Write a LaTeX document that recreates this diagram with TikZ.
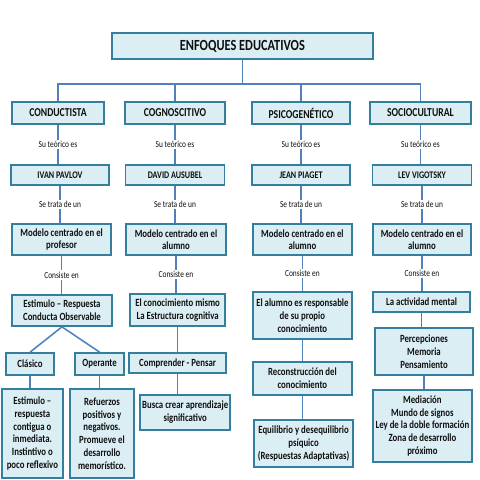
\documentclass[tikz,border=0pt]{standalone}
\usepackage{fontspec}
\setmainfont{Carlito}[FakeStretch=0.8]
\definecolor{boxfill}{RGB}{219,238,244}
\definecolor{boxborder}{RGB}{52,126,158}
\definecolor{linecol}{RGB}{79,129,189}
\definecolor{textcol}{RGB}{15,15,15}

\begin{document}
\begin{tikzpicture}
\tikzstyle{box} = [draw=boxborder, fill=boxfill, line width=1.2pt, inner sep=1pt, align=center, text=textcol, font=\bfseries\fontsize{7.8}{9.1}\selectfont]
\tikzstyle{line} = [draw=linecol, line width=1.1pt]
\tikzstyle{lbl} = [fill=white, inner sep=1pt, text=textcol, font=\fontsize{6.6}{7}\selectfont]
\tikzstyle{enfoque} = [font=\bfseries\fontsize{8.6}{9}\selectfont]
\tikzstyle{teorico} = [font=\bfseries\fontsize{7.2}{8}\selectfont]

\useasboundingbox (0,0) rectangle (12,-12);

% nodes
\node[box, font=\bfseries\fontsize{11}{12}\selectfont, minimum width=6.53cm, minimum height=0.65cm] (enf) at (6.06,-1.15) {ENFOQUES EDUCATIVOS};
\coordinate (bus) at (6.06,-2.1);

\node[box, enfoque, minimum width=2.3cm, minimum height=0.55cm] (cond) at (1.45,-2.825) {CONDUCTISTA};
\node[box, enfoque, minimum width=2.5cm, minimum height=0.55cm] (cogn) at (4.375,-2.825) {COGNOSCITIVO};
\node[box, enfoque, minimum width=2.45cm, minimum height=0.55cm] (psico) at (7.525,-2.825) {PSICOGENÉTICO};
\node[box, enfoque, minimum width=2.53cm, minimum height=0.55cm] (socio) at (10.51,-2.825) {SOCIOCULTURAL};

\node[box, teorico, minimum width=2.45cm, minimum height=0.5cm] (pavlov) at (1.5,-4.375) {IVAN PAVLOV};
\node[box, teorico, minimum width=2.48cm, minimum height=0.5cm] (ausubel) at (4.375,-4.375) {DAVID AUSUBEL};
\node[box, teorico, minimum width=2.45cm, minimum height=0.5cm] (piaget) at (7.525,-4.375) {JEAN PIAGET};
\node[box, teorico, minimum width=2.48cm, minimum height=0.5cm] (vigotsky) at (10.55,-4.375) {LEV VIGOTSKY};

\node[box, minimum width=2.48cm, minimum height=0.78cm] (modprof) at (1.54,-5.99) {Modelo centrado en el\\profesor};
\node[box, minimum width=2.5cm, minimum height=0.78cm] (modal2) at (4.4,-5.99) {Modelo centrado en el\\alumno};
\node[box, minimum width=2.48cm, minimum height=0.78cm] (modal3) at (7.56,-5.99) {Modelo centrado en el\\alumno};
\node[box, minimum width=2.45cm, minimum height=0.78cm] (modal4) at (10.55,-5.99) {Modelo centrado en el\\alumno};

\node[box, minimum width=2.5cm, minimum height=0.78cm] (estim) at (1.55,-7.76) {Estimulo -- Respuesta\\Conducta Observable};
\node[box, minimum width=2.38cm, minimum height=0.8cm] (conoc) at (4.44,-7.75) {El conocimiento mismo\\La Estructura cognitiva};
\node[box, minimum width=2.48cm, minimum height=1.18cm] (respons) at (7.56,-7.89) {El alumno es responsable\\de su propio\\conocimiento};
\node[box, minimum width=2.43cm, minimum height=0.5cm] (activ) at (10.54,-7.55) {La actividad mental};

\node[box, minimum width=1.2cm, minimum height=0.55cm] (clasico) at (0.75,-9.1) {Clásico};
\node[box, minimum width=1.23cm, minimum height=0.55cm] (operante) at (2.49,-9.1) {Operante};
\node[box, minimum width=1.53cm, minimum height=2.23cm] (clasdet) at (0.81,-10.84) {Estimulo --\\respuesta\\contigua o\\inmediata.\\Instintivo o\\poco reflexivo};
\node[box, minimum width=1.6cm, minimum height=2.23cm] (operdet) at (2.55,-10.84) {Refuerzos\\positivos y\\negativos.\\Promueve el\\desarrollo\\memorístico.};

\node[box, minimum width=2.43cm, minimum height=0.5cm] (comp) at (4.44,-9.08) {Comprender - Pensar};
\node[box, minimum width=2.25cm, minimum height=0.88cm] (busca) at (4.63,-10.31) {Busca crear aprendizaje\\significativo};

\node[box, minimum width=2.48cm, minimum height=0.83cm] (recons) at (7.56,-9.46) {Reconstrucción del\\conocimiento};
\node[box, minimum width=2.48cm, minimum height=1.18cm] (equil) at (7.59,-11.09) {Equilibrio y desequilibrio\\psíquico\\(Respuestas Adaptativas)};

\node[box, minimum width=2.45cm, minimum height=1.18cm] (percep) at (10.6,-8.79) {Percepciones\\Memoria\\Pensamiento};
\node[box, minimum width=2.48cm, minimum height=1.8cm] (media) at (10.56,-10.65) {Mediación\\Mundo de signos\\Ley de la doble formación\\Zona de desarrollo\\próximo};

% lines
\draw [line] (enf) -- (bus);
\draw [line] (cond.north) |- (bus) -| (socio.north);
\draw [line] (cogn) -- (cogn |- bus);
\draw [line] (psico) -- (psico |- bus);

\draw [line] (cond) -- node[lbl] {Su teórico es} (cond |- pavlov.north);
\draw [line] (cogn) -- node[lbl] {Su teórico es} (cogn |- ausubel.north);
\draw [line] (psico) -- node[lbl] {Su teórico es} (psico |- piaget.north);
\draw [line] (socio) -- node[lbl] {Su teórico es} (socio |- vigotsky.north);

\draw [line] (pavlov) -- node[lbl] {Se trata de un} (pavlov |- modprof.north);
\draw [line] (ausubel) -- node[lbl] {Se trata de un} (ausubel |- modal2.north);
\draw [line] (piaget) -- node[lbl] {Se trata de un} (piaget |- modal3.north);
\draw [line] (vigotsky) -- node[lbl] {Se trata de un} (vigotsky |- modal4.north);

\draw [line] (modprof) -- node[lbl] {Consiste en} (modprof |- estim.north);
\draw [line] (modal2) -- node[lbl] {Consiste en} (modal2 |- conoc.north);
\draw [line] (modal3) -- node[lbl] {Consiste en} (modal3 |- respons.north);
\draw [line] (modal4) -- node[lbl] {Consiste en} (modal4 |- activ.north);

\draw [line] (estim.south) -- (clasico.north);
\draw [line] (estim.south) -- (operante.north);
\draw [line] (clasico) -- (clasico |- clasdet.north);
\draw [line] (operante) -- (operante |- operdet.north);

\draw [line] (conoc) -- (conoc |- comp.north);
\draw [line] (comp) -- (comp |- busca.north);

\draw [line] (respons) -- (respons |- recons.north);
\draw [line] (recons) -- (recons |- equil.north);

\draw [line] (activ) -- (activ |- percep.north);
\draw [line] (percep) -- (percep |- media.north);

\end{tikzpicture}
\end{document}
